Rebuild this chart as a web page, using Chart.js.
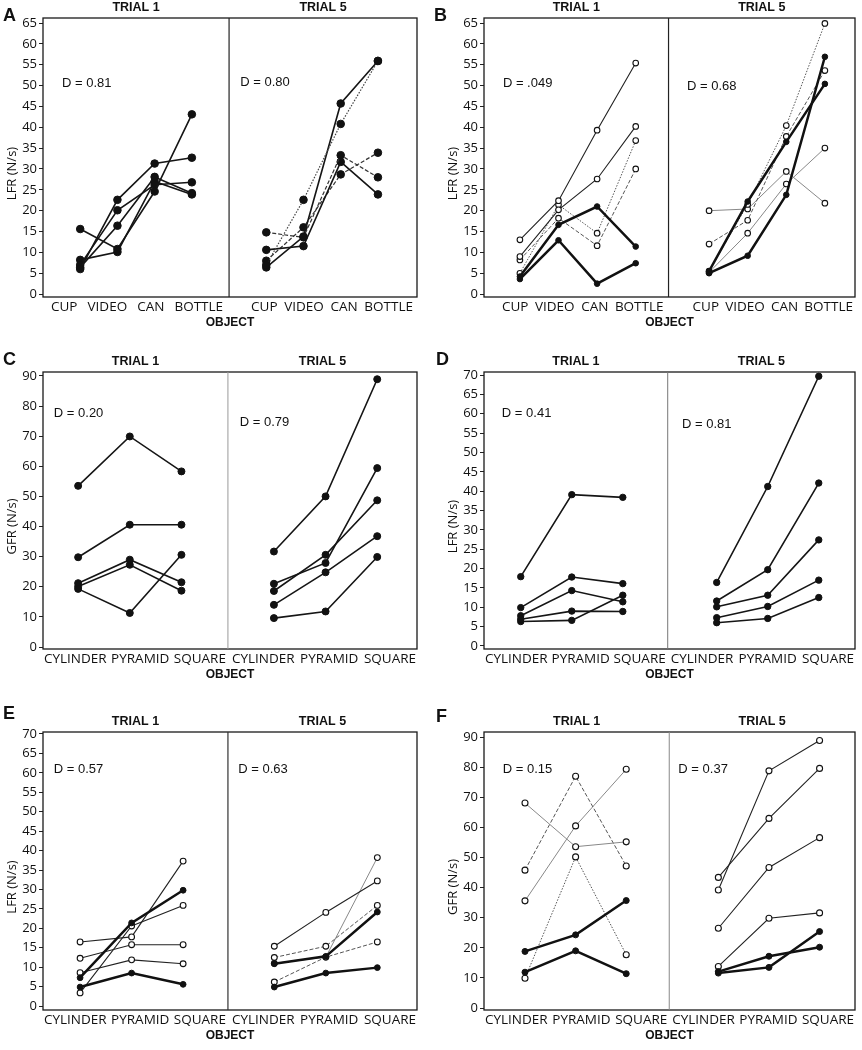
<!DOCTYPE html>
<html>
<head>
<meta charset="utf-8">
<script src="https://cdn.jsdelivr.net/npm/chart.js@4"></script>
<style>
  body { margin: 0; background: #fff; width: 862px; height: 1050px; position: relative; overflow: hidden; }
  canvas { position: absolute; }
  .letter { position: absolute; font: bold 18px "Liberation Sans", Arial, sans-serif; color: #111; line-height: 20px; }
</style>
</head>
<body>
<canvas id="chartA" width="431" height="340" style="left:0;top:0"></canvas>
<canvas id="chartB" width="431" height="340" style="left:431px;top:0"></canvas>
<canvas id="chartC" width="431" height="350" style="left:0;top:340px"></canvas>
<canvas id="chartD" width="431" height="350" style="left:431px;top:340px"></canvas>
<canvas id="chartE" width="431" height="360" style="left:0;top:690px"></canvas>
<canvas id="chartF" width="431" height="360" style="left:431px;top:690px"></canvas>
<div class="letter" style="left:3px;top:5px">A</div>
<div class="letter" style="left:434px;top:5px">B</div>
<div class="letter" style="left:3px;top:349px">C</div>
<div class="letter" style="left:436px;top:349px">D</div>
<div class="letter" style="left:3px;top:703px">E</div>
<div class="letter" style="left:436px;top:706px">F</div>
<script>
// object categories
const cupObjects = ['CUP', 'VIDEO', 'CAN', 'BOTTLE'];
const shapeObjects = ['CYLINDER', 'PYRAMID', 'SQUARE'];

// y tick labels
const ticks65 = [0, 5, 10, 15, 20, 25, 30, 35, 40, 45, 50, 55, 60, 65];
const ticks70 = [0, 5, 10, 15, 20, 25, 30, 35, 40, 45, 50, 55, 60, 65, 70];
const ticks90 = [0, 10, 20, 30, 40, 50, 60, 70, 80, 90];

// Panel A - LFR, one row per subject
const aTrial1 = [
  [15.6, 10.8, 24.6, 43.1],
  [6.0, 22.6, 31.3, 32.7],
  [7.0, 20.1, 26.2, 26.8],
  [6.4, 16.4, 28.1, 24.2],
  [8.2, 10.1, 27.0, 23.9]
];
const aTrial5 = [
  [7.0, 22.6, 40.8, 55.9],
  [6.4, 13.8, 45.7, 55.9],
  [14.8, 13.6, 33.3, 28.0],
  [10.6, 11.5, 31.7, 23.9],
  [8.0, 16.0, 28.7, 33.9]
];
const aTrial1Style = ['fill', 'fill', 'fill', 'fill', 'fill'];
const aTrial5Style = ['fillDot', 'fill', 'fillDash', 'fill', 'fillDash'];

// Panel B - LFR
const bTrial1 = [
  [4.2, 16.6, 21.0, 11.4],
  [3.6, 12.9, 2.5, 7.4],
  [13.0, 22.4, 39.3, 55.4],
  [9.0, 20.2, 27.6, 40.2],
  [5.0, 21.4, 14.6, 36.8],
  [8.2, 18.2, 11.6, 30.0]
];
const bTrial5 = [
  [5.5, 22.2, 36.5, 50.4],
  [5.0, 9.2, 23.8, 56.9],
  [5.5, 21.5, 40.4, 64.9],
  [12.0, 17.7, 37.8, 53.6],
  [20.0, 20.4, 29.4, 21.8],
  [5.2, 14.6, 26.4, 35.0]
];
const bTrial1Style = ['thick', 'thick', 'open', 'open', 'openDot', 'openDash'];
const bTrial5Style = ['thick', 'thick', 'openDot', 'openDash', 'openGray', 'openGray'];

// Panel C - GFR
const cTrial1 = [
  [53.5, 69.9, 58.3],
  [29.8, 40.6, 40.6],
  [19.3, 11.3, 30.6],
  [21.2, 29.0, 21.5],
  [20.1, 27.3, 18.7]
];
const cTrial5 = [
  [31.7, 50.0, 88.9],
  [21.0, 27.9, 59.4],
  [18.6, 30.6, 48.7],
  [14.0, 24.8, 36.8],
  [9.6, 11.8, 29.9]
];
const cTrial1Style = ['fill', 'fill', 'fill', 'fill', 'fill'];
const cTrial5Style = ['fill', 'fill', 'fill', 'fill', 'fill'];

// Panel D - LFR
const dTrial1 = [
  [17.9, 39.1, 38.4],
  [9.9, 17.8, 16.1],
  [7.8, 14.3, 11.4],
  [6.9, 9.0, 8.9],
  [6.3, 6.6, 13.1]
];
const dTrial5 = [
  [16.4, 41.2, 69.7],
  [11.6, 19.7, 42.1],
  [10.1, 13.1, 27.4],
  [7.3, 10.2, 17.0],
  [6.0, 7.1, 12.5]
];
const dTrial1Style = ['fill', 'fill', 'fill', 'fill', 'fill'];
const dTrial5Style = ['fill', 'fill', 'fill', 'fill', 'fill'];

// Panel E - LFR
const eTrial1 = [
  [7.3, 21.4, 29.8],
  [4.9, 8.5, 5.6],
  [16.5, 17.8, 37.3],
  [12.3, 15.8, 15.8],
  [8.6, 11.9, 10.9],
  [3.4, 20.6, 25.9]
];
const eTrial5 = [
  [10.9, 12.8, 24.2],
  [4.9, 8.5, 9.9],
  [15.4, 24.1, 32.2],
  [12.5, 15.4, 25.9],
  [11.0, 12.6, 38.2],
  [6.2, 12.6, 16.5]
];
const eTrial1Style = ['thick', 'thick', 'open', 'open', 'open', 'open'];
const eTrial5Style = ['thick', 'thick', 'open', 'openDash', 'openGray', 'openDash'];

// Panel F - GFR
const fTrial1 = [
  [18.8, 24.3, 35.7],
  [11.9, 19.0, 11.4],
  [68.1, 53.6, 55.2],
  [45.8, 77.0, 47.2],
  [35.6, 60.5, 79.3],
  [9.9, 50.2, 17.7]
];
const fTrial5 = [
  [12.1, 17.2, 20.2],
  [11.6, 13.5, 25.4],
  [39.2, 78.8, 88.9],
  [43.4, 63.0, 79.6],
  [26.5, 46.7, 56.6],
  [13.8, 29.8, 31.6]
];
const fTrial1Style = ['thick', 'thick', 'openGray', 'openDash', 'openGray', 'openDot'];
const fTrial5Style = ['thick', 'thick', 'open', 'open', 'open', 'open'];

const lineStyles = {
  fill:     { dash: [], width: 1.6, color: '#151515', open: false },
  fillDash: { dash: [4, 2], width: 1.2, color: '#333', open: false },
  fillDot:  { dash: [1.5, 1.5], width: 1.2, color: '#444', open: false },
  thick:    { dash: [], width: 2.5, color: '#111', open: false },
  open:     { dash: [], width: 1.1, color: '#222', open: true },
  openGray: { dash: [], width: 1, color: '#888', open: true },
  openDash: { dash: [4, 2], width: 1, color: '#555', open: true },
  openDot:  { dash: [1.5, 1.5], width: 1, color: '#555', open: true }
};

const CANVAS_W = 431;
const Y_AXIS_W = 43;
const tickFont = { family: '"Open Sans", sans-serif', size: 13 };
const xLabelFont = { family: '"Open Sans", sans-serif', size: 13.5 };

// draws the box, the trial divider, trial titles, y title and the D notes
const framePlugin = {
  id: 'frame',
  beforeDatasetsDraw(chart, args, opts) {
    const { ctx, chartArea: a, scales: { x, y } } = chart;
    const dx = x.getPixelForValue(opts.divider);
    ctx.save();
    ctx.strokeStyle = '#1a1a1a';
    ctx.lineWidth = 1.3;
    ctx.strokeRect(a.left, a.top, a.right - a.left, a.bottom - a.top);
    ctx.strokeStyle = opts.dividerColor;
    ctx.lineWidth = opts.dividerWidth;
    ctx.beginPath();
    ctx.moveTo(dx, a.top);
    ctx.lineTo(dx, a.bottom);
    ctx.stroke();

    ctx.fillStyle = '#111';
    ctx.font = 'bold 12.5px "Liberation Sans", Arial, sans-serif';
    ctx.textAlign = 'center';
    ctx.textBaseline = 'middle';
    ctx.fillText('TRIAL 1', (a.left + dx) / 2, a.top - 10);
    ctx.fillText('TRIAL 5', (dx + a.right) / 2, a.top - 10);

    // y axis title sits a little below the middle in the original
    ctx.save();
    ctx.font = '13px "Open Sans", sans-serif';
    ctx.translate(a.left - Y_AXIS_W + 12, (a.top + a.bottom) / 2 + 16);
    ctx.rotate(-Math.PI / 2);
    ctx.fillText(opts.yTitle, 0, 0);
    ctx.restore();

    ctx.font = '13px "Liberation Sans", Arial, sans-serif';
    ctx.textAlign = 'left';
    opts.notes.forEach(n => ctx.fillText(n.text, x.getPixelForValue(n.x), y.getPixelForValue(n.y)));
    ctx.restore();
  }
};

// spread the object names across one trial half, like the typed labels of the original
const measureCtx = document.createElement('canvas').getContext('2d');
function spreadLabels(labels, left, right) {
  measureCtx.font = xLabelFont.size + 'px ' + xLabelFont.family;
  const widths = labels.map(t => measureCtx.measureText(t).width);
  const total = widths.reduce((s, w) => s + w, 0);
  const gap = Math.max((right - left - total) / (labels.length - 1), 3);
  const start = (left + right) / 2 - (total + gap * (labels.length - 1)) / 2;
  let cursor = start;
  return widths.map(w => {
    const c = cursor + w / 2;
    cursor += w + gap;
    return c;
  });
}

function makeSets(rows, styles, positions, radius) {
  return rows.map((row, r) => {
    const st = lineStyles[styles[r]];
    return {
      data: row.map((v, i) => ({ x: positions[i], y: v })),
      borderColor: st.color,
      borderWidth: st.width,
      borderDash: st.dash,
      pointRadius: radius,
      pointBackgroundColor: st.open ? '#fff' : '#111',
      pointBorderColor: '#111',
      pointBorderWidth: st.open ? 1.1 : 1,
      tension: 0,
      fill: false
    };
  });
}

function drawPanel(p) {
  const pos1 = p.cats.map((c, i) => i);
  const pos5 = p.cats.map((c, i) => i + p.shift);
  const datasets = makeSets(p.t1, p.t1Style, pos1, p.radius)
    .concat(makeSets(p.t5, p.t5Style, pos5, p.radius));

  // tick label anchors (in x units)
  const frameLeft = p.pad.left + Y_AXIS_W;
  const frameRight = CANVAS_W - p.pad.right;
  const ppu = (frameRight - frameLeft) / (p.xMax - p.xMin);
  const divPx = frameLeft + (p.divider - p.xMin) * ppu;
  const ins = p.labelInset;
  const labelPx = spreadLabels(p.cats, frameLeft + ins[0], divPx - ins[1])
    .concat(spreadLabels(p.cats, divPx + ins[2], frameRight - ins[3]));
  const labelPos = labelPx.map(px => p.xMin + (px - frameLeft) / ppu);
  const allLabels = p.cats.concat(p.cats);

  new Chart(document.getElementById(p.id), {
    type: 'line',
    data: { datasets },
    options: {
      responsive: false,
      animation: false,
      layout: { padding: p.pad },
      plugins: {
        legend: { display: false },
        tooltip: { enabled: false },
        frame: {
          divider: p.divider,
          dividerColor: p.dividerColor,
          dividerWidth: p.dividerWidth,
          yTitle: p.yTitle,
          notes: p.notes
        }
      },
      scales: {
        x: {
          type: 'linear',
          min: p.xMin,
          max: p.xMax,
          afterBuildTicks: s => { s.ticks = labelPos.map(v => ({ value: v })); },
          afterFit: s => { s.height = 36; },
          grid: { display: false, drawTicks: false },
          border: { display: false },
          ticks: {
            autoSkip: false, maxRotation: 0, minRotation: 0, padding: 2,
            font: xLabelFont, color: '#111',
            callback: (v, i) => allLabels[i]
          },
          title: {
            display: true, text: 'OBJECT', color: '#111',
            font: { family: '"Liberation Sans", Arial, sans-serif', size: 12, weight: 'bold' },
            padding: { top: 0, bottom: 3 }
          }
        },
        y: {
          type: 'linear',
          min: p.yMin,
          max: p.yMax,
          afterBuildTicks: s => { s.ticks = p.yTicks.map(v => ({ value: v })); },
          afterFit: s => { s.width = Y_AXIS_W; },
          grid: { drawOnChartArea: false, drawTicks: true, tickLength: 4, color: '#222' },
          border: { display: false },
          ticks: { font: tickFont, color: '#111', padding: 2 }
        }
      }
    },
    plugins: [framePlugin]
  });
}

drawPanel({
  id: 'chartA', cats: cupObjects, t1: aTrial1, t5: aTrial5, t1Style: aTrial1Style, t5Style: aTrial5Style,
  yTicks: ticks65, yTitle: 'LFR (N/s)', yMin: -0.7, yMax: 66.2,
  shift: 5, divider: 4, xMin: -1, xMax: 9.05, radius: 3.8,
  dividerColor: '#222', dividerWidth: 1.2, labelInset: [8, 6, 22, 4],
  notes: [{ text: 'D = 0.81', x: -0.49, y: 50.6 }, { text: 'D = 0.80', x: 4.3, y: 50.8 }],
  pad: { left: 0, top: 18, right: 14, bottom: 7 }
});
drawPanel({
  id: 'chartB', cats: cupObjects, t1: bTrial1, t5: bTrial5, t1Style: bTrial1Style, t5Style: bTrial5Style,
  yTicks: ticks65, yTitle: 'LFR (N/s)', yMin: -0.7, yMax: 66.2,
  shift: 4.9, divider: 3.85, xMin: -0.93, xMax: 8.68, radius: 2.8,
  dividerColor: '#222', dividerWidth: 1.2, labelInset: [18, 5, 24, 2],
  notes: [{ text: 'D = .049', x: -0.44, y: 50.6 }, { text: 'D = 0.68', x: 4.33, y: 49.9 }],
  pad: { left: 10, top: 18, right: 7, bottom: 7 }
});
drawPanel({
  id: 'chartC', cats: shapeObjects, t1: cTrial1, t5: cTrial5, t1Style: cTrial1Style, t5Style: cTrial5Style,
  yTicks: ticks90, yTitle: 'GFR (N/s)', yMin: -0.66, yMax: 91.3,
  shift: 3.79, divider: 2.9, xMin: -0.68, xMax: 6.56, radius: 3.5,
  dividerColor: '#999', dividerWidth: 1, labelInset: [1, 2, 4, 1],
  notes: [{ text: 'D = 0.20', x: -0.47, y: 77.7 }, { text: 'D = 0.79', x: 3.13, y: 74.4 }],
  pad: { left: 0, top: 32, right: 14, bottom: 5 }
});
drawPanel({
  id: 'chartD', cats: shapeObjects, t1: dTrial1, t5: dTrial5, t1Style: dTrial1Style, t5Style: dTrial5Style,
  yTicks: ticks70, yTitle: 'LFR (N/s)', yMin: -0.8, yMax: 70.8,
  shift: 3.84, divider: 2.88, xMin: -0.72, xMax: 6.55, radius: 3.2,
  dividerColor: '#777', dividerWidth: 1, labelInset: [1, 2, 3, 1],
  notes: [{ text: 'D = 0.41', x: -0.37, y: 60.2 }, { text: 'D = 0.81', x: 3.16, y: 57.3 }],
  pad: { left: 10, top: 32, right: 7, bottom: 5 }
});
drawPanel({
  id: 'chartE', cats: shapeObjects, t1: eTrial1, t5: eTrial5, t1Style: eTrial1Style, t5Style: eTrial5Style,
  yTicks: ticks70, yTitle: 'LFR (N/s)', yMin: -1, yMax: 70.5,
  shift: 3.77, divider: 2.87, xMin: -0.72, xMax: 6.54, radius: 2.9,
  dividerColor: '#333', dividerWidth: 1.2, labelInset: [1, 2, 4, 1],
  notes: [{ text: 'D = 0.57', x: -0.51, y: 61 }, { text: 'D = 0.63', x: 3.07, y: 61 }],
  pad: { left: 0, top: 42, right: 14, bottom: 4 }
});
drawPanel({
  id: 'chartF', cats: shapeObjects, t1: fTrial1, t5: fTrial5, t1Style: fTrial1Style, t5Style: fTrial5Style,
  yTicks: ticks90, yTitle: 'GFR (N/s)', yMin: -0.66, yMax: 91.7,
  shift: 3.82, divider: 2.85, xMin: -0.81, xMax: 6.52, radius: 3,
  dividerColor: '#888', dividerWidth: 1, labelInset: [1, 2, 3, 1],
  notes: [{ text: 'D = 0.15', x: -0.44, y: 79.2 }, { text: 'D = 0.37', x: 3.03, y: 79.2 }],
  pad: { left: 10, top: 42, right: 7, bottom: 4 }
});
</script>
</body>
</html>
